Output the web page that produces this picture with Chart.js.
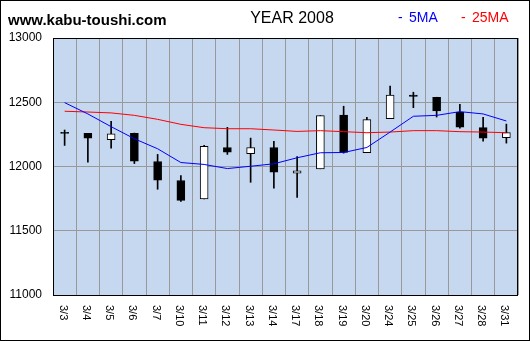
<!DOCTYPE html>
<html>
<head>
<meta charset="utf-8">
<script src="https://cdn.jsdelivr.net/npm/chart.js@4"></script>
<style>
  body { margin: 0; background: #fff; }
  #wrap { width: 530px; height: 341px; }
</style>
</head>
<body>
<div id="wrap"><canvas id="grafico"></canvas></div>
<script>
// daily candles, March 2008
const fechas = ["3/3", "3/4", "3/5", "3/6", "3/7", "3/10", "3/11", "3/12", "3/13", "3/14",
  "3/17", "3/18", "3/19", "3/20", "3/24", "3/25", "3/26", "3/27", "3/28", "3/31"];
const apertura = [12266, 12258, 12209, 12258, 12039, 11891, 11748, 12148, 12099, 12148,
  11948, 11982, 12401, 12107, 12372, 12556, 12539, 12422, 12302, 12224];
const maximo = [12284, 12258, 12352, 12260, 12094, 11930, 12164, 12305, 12221, 12195,
  12078, 12396, 12469, 12383, 12625, 12578, 12539, 12484, 12383, 12330];
const minimo = [12164, 12034, 12143, 12023, 11823, 11729, 11748, 12094, 11877, 11831,
  11760, 11982, 12104, 12107, 12372, 12458, 12385, 12299, 12198, 12182];
const cierre = [12258, 12221, 12255, 12041, 11893, 11737, 12156, 12112, 12148, 11956,
  11966, 12396, 12109, 12365, 12555, 12546, 12432, 12307, 12221, 12263];

// moving averages
const ma5 = [12497, 12409, 12310, 12216, 12138, 12031, 12016, 11984, 12002, 12021,
  12068, 12107, 12109, 12148, 12268, 12391, 12398, 12427, 12409, 12354];
const ma25 = [12430, 12424, 12417, 12398, 12367, 12328, 12302, 12294, 12294, 12284,
  12273, 12279, 12271, 12263, 12268, 12279, 12279, 12271, 12268, 12263];

const yTicks = [11000, 11500, 12000, 12500, 13000];

const mechas = maximo.map((h, i) => [minimo[i], h]);
const cuerpos = apertura.map((o, i) => [Math.min(o, cierre[i]), Math.max(o, cierre[i])]);
const colores = apertura.map((o, i) => (cierre[i] >= o ? "#ffffff" : "#000000"));

const marco = {
  id: "marco",
  beforeDraw(chart) {
    const { ctx, chartArea: a } = chart;
    ctx.save();
    ctx.fillStyle = "#ffffff";
    ctx.fillRect(0, 0, chart.width, chart.height);
    ctx.fillStyle = "#c6d8f0";
    ctx.fillRect(a.left, a.top, a.right - a.left, a.bottom - a.top);
    ctx.restore();
  },
  afterDraw(chart) {
    const { ctx, chartArea: a } = chart;
    ctx.save();
    ctx.strokeStyle = "#000";
    ctx.lineWidth = 1;
    ctx.strokeRect(Math.round(a.left) + 0.5, Math.round(a.top) + 0.5,
      Math.round(a.right - a.left) - 1, Math.round(a.bottom - a.top));
    ctx.strokeRect(0.5, 0.5, chart.width - 1, chart.height - 1);

    ctx.fillStyle = "#000";
    ctx.textBaseline = "alphabetic";
    ctx.textAlign = "left";
    ctx.font = "bold 15px 'Liberation Sans', Arial, sans-serif";
    ctx.fillText("www.kabu-toushi.com", 8, 25);
    ctx.font = "16px 'Liberation Sans', Arial, sans-serif";
    ctx.textAlign = "center";
    ctx.fillText("YEAR 2008", 292, 23);

    ctx.textAlign = "left";
    ctx.font = "14px 'Liberation Sans', Arial, sans-serif";
    ctx.fillStyle = "#0000ff";
    ctx.fillText("-", 398, 22);
    ctx.fillText("5MA", 409, 22);
    ctx.fillStyle = "#ff0000";
    ctx.fillText("-", 461, 22);
    ctx.fillText("25MA", 472, 22);

    // date labels read top to bottom
    const xs = chart.scales.x;
    ctx.fillStyle = "#000";
    ctx.font = "11px 'Liberation Sans', Arial, sans-serif";
    ctx.textBaseline = "middle";
    fechas.forEach((f, i) => {
      const x = xs.getPixelForValue(i);
      ctx.save();
      ctx.translate(x - 2, a.bottom + 10);
      ctx.rotate(Math.PI / 2);
      ctx.fillText(f, 0, 0);
      ctx.restore();
    });
    ctx.restore();
  }
};

new Chart(document.getElementById("grafico"), {
  type: "bar",
  data: {
    labels: fechas,
    datasets: [
      {
        type: "line",
        data: ma5,
        borderColor: "#0000ff",
        borderWidth: 1,
        pointRadius: 0,
        tension: 0,
        order: 0
      },
      {
        type: "line",
        data: ma25,
        borderColor: "#ff0000",
        borderWidth: 1,
        pointRadius: 0,
        tension: 0,
        order: 1
      },
      {
        data: cuerpos,
        backgroundColor: colores,
        borderColor: "#000",
        borderWidth: 1,
        borderSkipped: false,
        barThickness: 8,
        grouped: false,
        order: 2
      },
      {
        data: mechas,
        backgroundColor: "#000",
        borderWidth: 0,
        barThickness: 1,
        grouped: false,
        order: 3
      }
    ]
  },
  options: {
    responsive: true,
    maintainAspectRatio: false,
    devicePixelRatio: 1,
    animation: false,
    layout: { padding: { left: 0, top: 38, right: 12, bottom: 0 } },
    plugins: { legend: { display: false }, tooltip: { enabled: false } },
    scales: {
      x: {
        grid: { color: "#999999", offset: true, drawTicks: false },
        border: { display: false },
        ticks: { display: false },
        afterFit(scale) { scale.height = 46; }
      },
      y: {
        min: 11000,
        max: 13000,
        grid: { color: "#999999", drawTicks: false },
        border: { display: false },
        afterBuildTicks(scale) { scale.ticks = yTicks.map((v) => ({ value: v })); },
        ticks: {
          padding: 11,
          color: "#000",
          font: { family: "'Liberation Sans', Arial, sans-serif", size: 12 },
          callback: (v) => String(v)
        },
        afterFit(scale) { scale.width = 53; }
      }
    }
  },
  plugins: [marco]
});
</script>
</body>
</html>
